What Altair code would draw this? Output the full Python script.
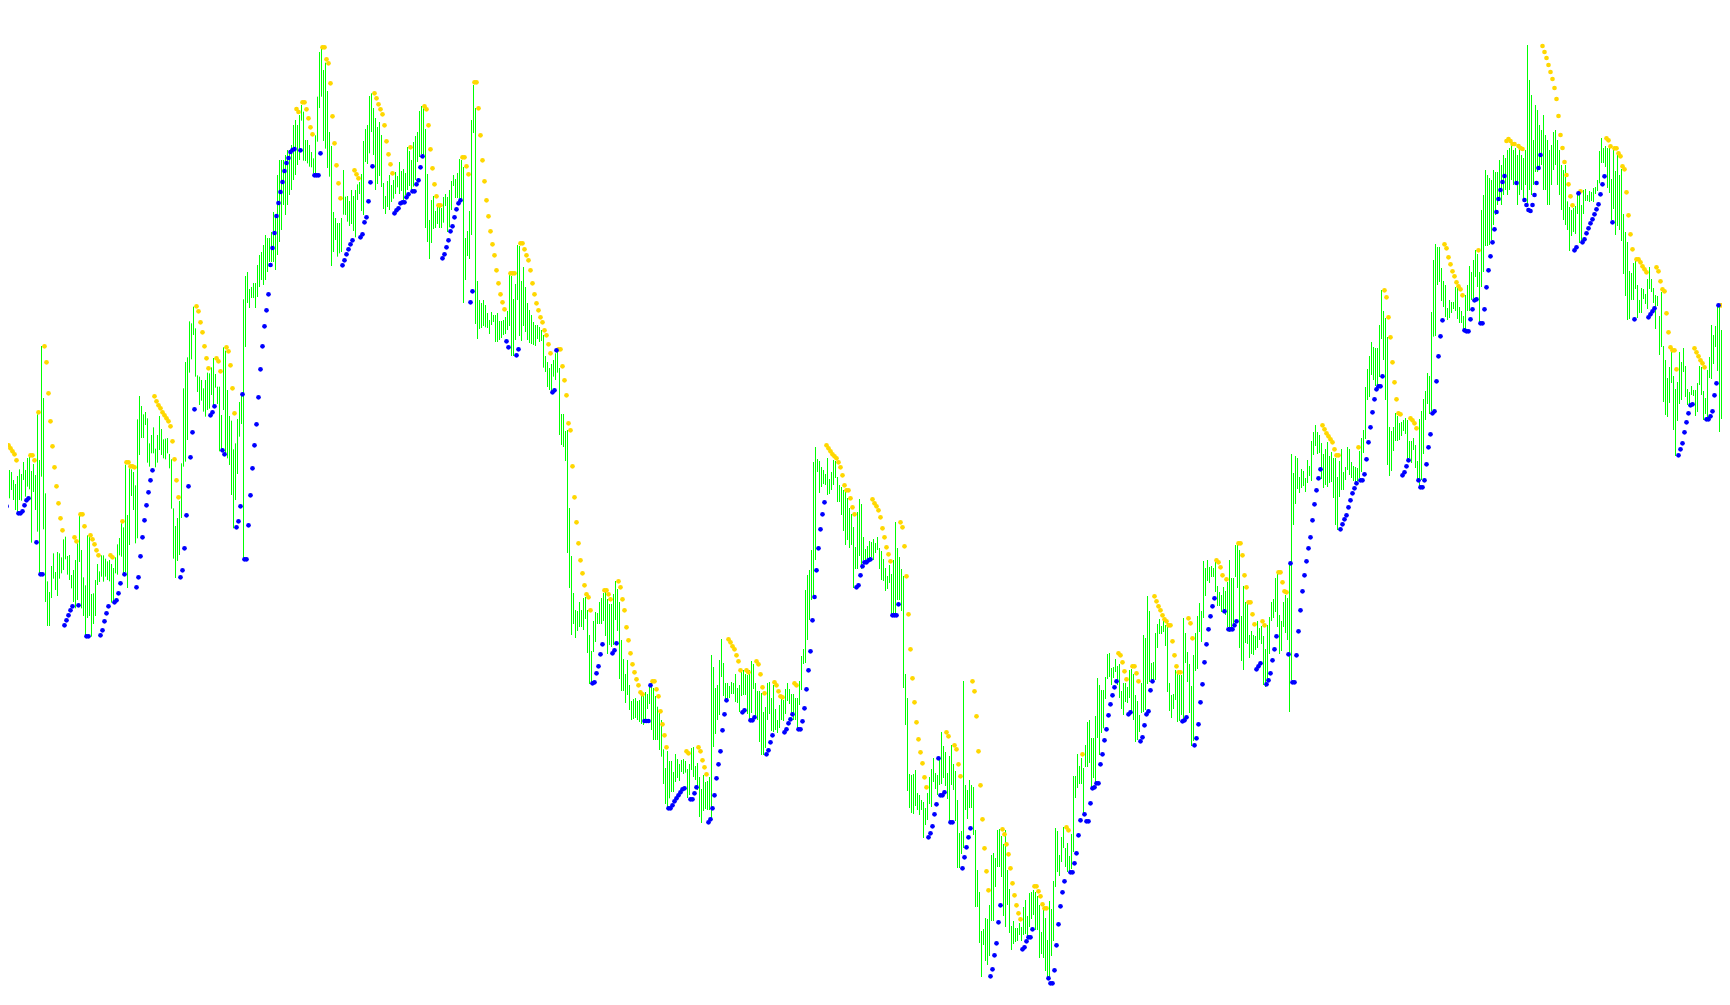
import altair as alt
import pandas as pd

# Bar readings: tops and bottoms per stretch of the series
A_top = [549,544,495,545,570,576,600,612,588,568,582,546,570,534,530,573,552,585,403,540,198,354,640,904,936,858,820,876,816,820,832,778,770,828,825,885,870,840,790,708,810,892,916,766,770,942,940,900,852,874,826,826,836,844,840,852,864,832,793,774,730,742,554,705,565,568,576,616,418,348,378,403,396,415,490,465,442,506,465,408,447,478,476,474,522,538,685,738,714,663,550,325,246,232,124,130,80,145,286,290,300,325,300,278,280,262,234,282,320,320,405,202,212,330,408,422,508,490,417,366,340,58]
A_bot = [648,630,608,645,655,630,660,690,700,660,662,600,650,620,628,788,636,690,755,880,590,748,966,1038,1038,954,896,930,948,896,880,870,838,884,900,925,966,985,960,846,985,1008,1070,1014,1008,1070,1032,1008,915,906,890,905,890,900,904,968,965,880,884,826,830,880,876,924,795,648,690,790,775,525,474,474,435,548,560,520,520,562,548,510,525,535,538,520,565,686,836,894,843,825,714,560,545,480,278,238,165,290,336,375,362,395,410,390,386,345,380,323,372,514,510,390,520,535,555,645,745,660,582,470,432,840]
B_top = [276,272,289,287,283,283,265,255,252,245,235,238,238,232,212,215,175,160,160,160,155,150,150,145,125,120,125,115]
B_bot = [347,303,308,298,298,308,297,287,280,285,280,272,262,262,262,270,255,242,230,205,215,205,195,190,180,175,165,160]
C_top = [225,245,330,330,345,366,385,316,200,66,57,120,98,183,306,348,546,564,579,579,564,420,500,498,513,480,498,480,463,456,432,333,297,285,198,190,234,264,291,276,315,459,498,453,435,465,450,426,438,396,423,417,429,351,363,390,336,318,306,243,228,235,297,432,570,510,498,543,528,530,534,501,492,501,480]
C_bot = [272,392,393,400,410,412,430,432,335,234,200,333,356,414,440,708,666,630,680,670,666,554,555,575,588,582,603,622,510,492,543,555,396,402,370,306,375,480,462,438,471,537,552,531,540,516,506,492,472,492,483,510,495,480,468,480,470,450,396,381,372,385,594,636,687,639,597,594,582,594,594,578,528,606,592]
D_top = [333,315,327,309,267,270,291,504,483,423,150,45,114,633,690,699,690,705,729,750,726,735,735,729,753,753,750,741,723,615,618,687,642,525,528,633,591,651,699,720,735,756,765,765,771,780,795,858,876,894,882]
D_bot = [420,348,384,384,386,390,699,630,558,567,495,189,762,807,777,774,768,772,774,792,765,756,816,816,810,804,795,792,780,768,858,858,810,690,798,813,768,786,810,819,822,825,828,807,816,813,893,906,951,960,968]
E_top = [90,70,60,114,252,252,303,300,534,678,789,840,843,816,840,804,801,840,915,963,873,846,849,816,804,789,780,807,822,822,792,753,777,816,930,987,1032,990,1065,1113,1107,1104,1113,1110,1098,1095,1086,1092,1071,1050,1074,1098,1130,1140,1170]
E_bot = [140,150,128,315,345,351,393,669,774,915,882,924,903,891,891,900,867,969,1062,1062,966,936,882,882,882,873,918,972,945,951,945,870,903,1047,1083,1083,1119,1095,1140,1170,1167,1164,1170,1176,1182,1185,1176,1137,1122,1200,1230,1230,1230,1260,1280]
F_top = [388,444,393,423,423,456,402,417,432,420,417,423,447,432,384,381,438,429,471,507,465,486,483,471,105,141,204,195,120,57,129,189,189,198,186,189,162,204,195,150,150,162,165,150,123,132,189,213,213,219,276,261,189,186,234,195,267,300,255,237,240,207,189,207,222,222,234,234,183,108,87,-90]
F_bot = [492,552,570,535,516,516,486,474,483,456,462,458,534,525,450,471,480,510,591,609,573,567,570,570,600,381,342,300,285,171,228,240,237,234,222,222,246,249,276,228,225,225,282,300,279,207,297,300,366,405,405,384,300,282,333,336,330,339,324,300,303,282,243,252,288,300,300,324,255,210,132,129]
G_top = [575,570,550,462,447]
G_bot = [640,620,600,596,560]
H_top = [87,93,111,120,132,84,147,126,90,93,141,165,171,180,186,204,234,252,291,351,246,207,222,321,357,348,333,336,327,339,321,354,363,387,414,438,405,432,390,276,354,381,417,438,732,804,1032,1035,1032,1020,1089,1095,1110,1116,1134,1089,1041,1017,984,1029,1035,984,906,948,966,1029,978,945,1002,1023,1110,1209,1203,753,1065,1080,1050]
H_bot = [126,189,171,162,165,195,192,180,165,144,216,216,255,303,345,330,354,345,474,417,417,378,417,390,396,390,384,381,390,369,360,417,450,453,483,477,459,555,555,555,510,510,543,774,885,1083,1134,1149,1152,1128,1140,1155,1140,1224,1185,1170,1122,1131,1056,1077,1095,1065,1062,1044,1068,1107,1179,1065,1080,1173,1314,1314,1272,1254,1140,1167,1134]
I_top = [375,381,510,630,696,813,807,774,777,735,585,579,594,510,507,528,552,510,630,687,798,783,804,804,789,801,741,720,768,699,696,690,696,708,735,816,750,774,840,723,747,663,504,513,585,531,501,564,549,588,522,348,348,282,318,294,324,255,186,180,234,234,168,54,75,90]
I_bot = [444,525,741,741,849,951,855,903,915,888,783,783,681,621,621,651,768,801,735,819,870,852,846,843,825,843,825,822,828,801,777,765,810,810,894,882,894,933,954,960,888,843,681,636,648,606,564,621,636,633,627,576,414,384,372,372,459,321,321,309,387,354,366,234,285,219]
J_top = [480,441,372,369,414,411,387,408,402,483,459,459,471,420,417,432,495,513,555,459,315,324,198,243,399,396,309,282,267,288,273,285,279,459,495,492,420,432,435,435,264,309,366,402,468,375,309,258,219,243,93,114,90,111,108,114,96,168,186,195,171,183,156,90,144,144,45,45,60,258,168,216,219,315,303,315,318,273,294,288,318,357,285,261,216,207,144,132,255,273,216,195,204,105]
J_bot = [595,507,447,441,465,444,426,465,504,537,555,516,519,504,545,570,636,630,606,549,546,540,462,456,456,453,450,354,312,312,306,348,486,543,564,537,510,576,573,555,573,399,456,549,648,633,423,417,306,336,264,198,153,159,141,141,186,228,228,246,240,255,291,306,303,291,141,174,354,393,420,339,342,384,372,375,360,354,330,342,465,471,453,372,273,264,246,291,372,363,291,309,330,546]
K_top = [522,579,528,534,591,567,573,594,540,558,483,456,435,456,465,489,522,507,486,528,516,534,534,591,543,507,576,561,501,507,546,558,561,564,513,474,450,321,267,228,186,201,204,204,135,30,93,114,171,441,453,441,399,408,429,426,420,414,420,483,483,474,495,543,417,393,357,333,279,288,96,-60]
K_bot = [1200,735,672,627,639,624,618,636,609,588,603,525,498,522,519,597,624,615,621,609,606,654,735,750,651,630,630,600,570,585,594,603,606,603,594,576,519,477,360,351,285,300,318,321,291,177,240,360,555,588,573,513,483,483,480,468,453,462,540,534,549,510,564,600,618,600,522,420,372,402,393,170]
L_top = [42,51,51,114,153,165,234,210,216,216,171,174,231,243,258,195,165,108,126,90,60,72,126]
L_bot = [318,165,156,213,231,261,270,264,249,237,243,267,279,279,300,300,243,243,210,204,141,171,276]
M_top = [210,195,170,175,178,180,170,172,172,160,165,155,158,150,148,140,150,148,155,150,155,158,150,45,80,95,140,105,110,125,130,115,135,140,150,145,132,130,140,150,165,170,165]
M_bot = [287,272,246,246,245,240,225,215,205,200,205,195,190,195,190,180,185,182,205,195,190,202,185,205,190,195,185,172,172,170,165,190,190,205,205,185,170,165,185,195,210,220,225]
N_top = [484,501,510,504,498,465,465,495,450,447,465,453,456,444,441,420,333,294,324,318,324,315,417,330,393,345,405,387,522,576,606,693,699,669,663,735,780,744,747,762,717,681,717,744,765,768,828,756,918,960,1014,981,936,1008,1047,1026,936,966,924,978,1047,1056,1038,1050,1050,1029,978,981,1053,1074,990,951,855,885,858,798,798,870,1035,951,888,813]
N_bot = [570,633,588,576,582,522,609,603,522,483,483,486,483,486,462,453,430,369,369,381,444,459,540,507,585,558,570,603,702,768,840,837,780,780,747,834,819,819,777,792,807,747,756,789,867,798,945,921,1086,1125,1131,1089,1029,1170,1248,1143,1092,1080,996,1071,1095,1095,1065,1068,1128,1116,1035,1065,1140,1122,1140,1014,1017,972,921,993,1176,1137,1212,1134,1017,921]

# (first bar, crop top, reading divisor, tops, bottoms)
STRETCHES = [
    (0, 280, 3, A_top, A_bot), (122, 0, 1, B_top, B_bot), (150, 30, 3, C_top, C_bot),
    (225, 70, 3, D_top, D_bot), (276, 330, 3, E_top, E_bot), (331, 620, 3, F_top, F_bot),
    (403, 0, 1, G_top, G_bot), (408, 430, 3, H_top, H_bot), (485, 660, 3, I_top, I_bot),
    (551, 530, 3, J_top, J_bot), (645, 280, 3, K_top, K_bot), (717, 230, 3, L_top, L_bot),
    (740, 0, 1, M_top, M_bot), (783, 40, 3, N_top, N_bot),
]

# Dot readings per stretch as (position, reading) pairs
a_gold = [(25,496),(31,505),(37,514),(43,523),(49,541),(91,526),(97,526),(103,541),(115,397),(133,199),(139,247),(145,340),(151,424),(157,499),(163,562),(169,619),(175,670),(181,715),(187,751),(223,772),(229,784),(241,703),(247,703),(253,739),(271,766),(277,778),(283,793),(289,811),(295,826),(331,826),(337,832),(367,724),(379,547),(385,547),(391,559),(397,559),(403,562),(463,349),(469,364),(475,376),(481,385),(487,397),(493,406),(499,415),(505,424),(511,439),(517,484),(523,538),(529,601),(535,652),(589,79),(595,94),(601,127),(607,157),(613,199),(619,235),(625,265),(649,235),(655,244),(661,274),(679,202),(685,214),(691,256),(697,325),(703,400)]
a_blue = [(1,826),(7,769),(13,721),(19,679),(55,700),(61,700),(67,694),(73,676),(79,661),(85,655),(109,787),(121,883),(127,883),(193,1036),(199,1021),(205,1006),(211,991),(217,979),(235,976),(259,1069),(265,1069),(301,1066),(307,1051),(313,1024),(319,1000),(325,979),(343,967),(349,961),(355,940),(361,910),(373,883),(409,922),(415,892),(421,829),(427,772),(433,721),(439,676),(445,637),(451,601),(457,571),(541,892),(547,871),(553,805),(559,706),(565,619),(571,532),(577,457),(583,388),(631,406),(637,397),(643,379),(667,511),(673,523),(709,742),(715,724),(721,679),(727,343),(733,838),(739,838),(745,736),(751,646),(757,565),(763,496),(769,433),(775,352),(781,268),(787,199),(793,139),(799,91),(805,43)]
c_gold = [(7,217),(13,217),(19,238),(25,265),(31,292),(37,313),(67,52),(73,52),(79,88),(85,100),(91,160),(97,259),(103,340),(109,406),(115,460),(121,505),(163,421),(169,433),(175,445),(223,190),(229,205),(235,223),(241,238),(247,253),(253,286),(259,334),(265,373),(271,403),(277,430),(331,352),(373,229),(379,238),(385,286),(391,358),(397,415),(403,463),(409,499),(415,526),(421,526)]
c_blue = [(1,361),(43,436),(49,436),(55,436),(61,370),(127,706),(133,691),(139,673),(145,658),(151,643),(157,631),(181,622),(187,613),(193,577),(199,562),(205,514),(211,457),(217,409),(283,550),(289,541),(295,535),(301,520),(307,517),(313,517),(319,502),(325,493),(337,484),(343,484),(349,463),(355,451),(361,412),(367,379),(427,685),(433,673),(439,652),(445,631),(451,604)]
d_gold = [(37,262),(43,262),(49,289),(55,313),(73,37),(79,37),(85,115),(91,196),(97,271),(103,334),(109,391),(115,439),(121,484),(127,523),(133,556),(139,601),(145,640),(151,673),(157,697),(163,718),(181,610),(187,610),(193,610),(211,520),(217,520),(223,538),(229,556),(235,571),(241,601),(247,640),(253,673),(259,700),(265,721),(271,742),(277,757),(283,781),(289,796),(295,823),(301,850)]
d_blue = [(7,469),(13,442),(19,418),(25,400),(31,391),(61,697),(67,664),(169,814),(175,832),(199,856),(205,838),(307,967)]
e_gold = [(19,58),(25,58),(31,109),(37,151),(43,196),(49,280),(55,301),(61,409),(67,502),(73,577),(79,640),(85,691),(91,730),(97,766),(103,793),(109,802),(115,841),(157,781),(163,781),(169,793),(175,808),(199,754),(205,772),(211,808),(217,841),(223,892),(229,931),(235,970),(241,1003),(247,1027),(253,1048),(259,1066),(265,1087),(271,1093),(301,1054),(307,1054),(313,1078),(319,1099)]
e_blue = [(7,181),(13,61),(121,1060),(127,1057),(133,1030),(139,1009),(145,973),(151,943),(181,970),(187,961),(193,940),(277,1173),(283,1173),(289,1173),(295,1066)]
f_gold = [(-5,274),(1,313),(7,346),(13,382),(73,394),(79,400),(109,382),(115,394),(121,421),(127,442),(133,463),(199,58),(205,67),(211,79),(217,88),(223,106),(229,124),(235,151),(253,151),(259,157),(283,124),(289,133),(295,163),(301,202),(307,220),(337,187),(343,196),(349,214),(355,229),(361,232),(397,190),(403,196)]
f_blue = [(19,565),(25,565),(31,556),(37,544),(43,535),(49,526),(55,517),(61,508),(67,505),(85,538),(91,538),(97,520),(103,502),(139,607),(145,598),(151,565),(157,526),(163,475),(169,433),(175,394),(181,331),(187,283),(193,241),(241,277),(247,271),(265,301),(271,301),(277,292),(313,403),(319,391),(325,367),(331,346),(367,337),(373,328),(379,310),(385,298),(391,283),(409,328),(415,328),(421,304),(427,265),(433,208),(439,151),(445,94),(451,1)]
h_gold = [(31,46),(37,55),(43,64),(49,73),(55,79),(61,85),(67,97),(73,112),(79,136),(85,166),(91,181),(97,181),(103,205),(109,232),(115,253),(169,208),(175,220),(181,229),(187,241),(193,262),(199,295),(205,322),(211,352),(217,373),(223,394),(253,277),(259,292),(265,349),(271,439),(277,553),(283,658),(289,745),(295,817),(301,877),(307,928),(313,967),(319,1000),(325,1042),(331,1072),(391,907),(397,919),(415,946),(421,958),(427,1003),(433,1039)]
h_blue = [(-5,501),(1,421),(7,355),(13,298),(19,253),(25,217),(121,472),(127,466),(133,436),(139,409),(145,397),(151,397),(157,391),(163,388),(229,556),(235,556),(241,556),(247,523),(337,1222),(343,1210),(349,1189),(355,1153),(361,1123),(367,985),(373,1096),(379,1096),(385,1087),(403,1177),(409,1177),(439,1315),(445,1282),(451,1252),(457,1222),(463,1195)]
i_gold = [(7,64),(13,94),(19,169),(25,274),(31,376),(37,478),(43,565),(49,634),(55,691),(97,508),(103,523),(109,553),(115,583),(121,625),(127,670),(133,706),(139,736),(145,760),(151,778),(193,679),(199,679),(205,694),(211,709),(217,733),(223,745),(229,745),(289,502),(295,511),(337,283)]
i_blue = [(61,949),(67,928),(73,886),(79,850),(85,787),(91,736),(157,868),(163,862),(169,844),(175,832),(181,832),(187,808),(235,955),(241,970),(247,970),(253,931),(259,856),(265,793),(271,739),(277,697),(283,664),(301,637),(307,637),(313,610),(319,580),(325,526),(331,481),(343,463),(349,484),(355,484),(361,430),(367,385),(373,382),(379,370),(385,370),(391,313),(397,283)]
j_gold = [(46,370),(52,376),(58,397),(64,424),(70,448),(88,409),(94,409),(100,430),(106,454),(154,199),(160,214),(166,229),(172,241),(178,256),(184,268),(190,274),(196,286),(202,286),(208,334),(214,376),(220,409),(226,427),(232,427),(256,265),(262,280),(268,325),(340,91),(346,97),(352,112),(358,136),(370,148),(406,40),(412,40),(418,76),(424,136),(430,172),(436,217),(442,217),(448,253),(454,283),(478,274),(484,286),(526,127),(532,127),(538,157),(544,184),(550,187)]
j_blue = [(4,631),(10,598),(16,556),(22,523),(28,496),(34,472),(40,454),(76,553),(82,547),(112,634),(118,622),(124,586),(130,553),(136,544),(142,481),(148,454),(238,574),(244,571),(250,562),(274,646),(280,625),(286,583),(292,517),(298,463),(304,397),(310,343),(316,298),(322,259),(328,229),(334,205),(364,244),(376,298),(382,298),(388,298),(394,286),(400,274),(460,418),(466,409),(472,400),(490,463),(496,451),(502,430),(508,391),(514,358),(520,319),(556,373),(562,100)]
k_gold = [(97,436),(103,448),(109,460),(115,469),(121,478),(127,487),(133,508),(139,526),(145,526),(205,502),(283,31),(289,52),(295,112),(301,172),(307,247),(313,307),(319,358),(325,400),(331,403),(361,415),(367,421),(373,430),(379,445)]
k_blue = [(7,1207),(13,1207),(19,1126),(25,1054),(31,991),(37,934),(43,886),(49,844),(55,805),(61,772),(67,721),(73,673),(79,631),(85,595),(91,568),(151,748),(157,733),(163,718),(169,706),(175,682),(181,661),(187,640),(193,625),(199,610),(211,601),(217,601),(223,583),(229,538),(235,487),(241,442),(247,397),(253,358),(259,328),(265,319),(271,319),(277,289),(337,586),(343,577),(349,559),(355,541),(385,601),(391,622),(397,622),(403,601),(409,553),(415,502),(421,463),(427,400),(433,394)]
l_gold = [(31,43),(37,55),(43,82),(49,103),(55,124),(61,139),(67,157),(73,169),(79,178),(85,196),(133,61)]
l_blue = [(7,454),(13,379),(19,319),(25,271),(91,301),(97,304),(103,304),(109,268),(115,238),(121,211),(127,208),(139,280),(145,280),(151,238),(157,172),(163,121),(169,79),(175,37),(181,-2)]
n_gold = [(7,433),(13,469),(19,496),(43,454),(121,295),(127,301),(133,319),(145,325),(151,325),(157,340),(163,349),(169,379),(175,388),(181,457),(187,526),(193,583),(199,628),(211,658),(217,658),(223,667),(229,679),(235,688),(241,697),(271,682),(277,694),(283,724),(289,748),(295,754),(301,820),(307,877),(313,922),(319,931),(325,931),(331,988),(385,925),(391,937),(397,949),(403,961),(409,970),(415,982),(463,796),(469,796),(475,844),(481,889)]
n_blue = [(25,631),(31,622),(37,460),(49,607),(55,598),(61,580),(67,565),(73,550),(79,538),(85,523),(91,508),(97,493),(103,463),(109,433),(115,409),(139,547),(205,838),(247,832),(253,823),(259,814),(265,805),(337,1246),(343,1228),(349,1210),(355,1177),(361,1147),(367,1120),(373,1096),(379,1093),(421,1138),(427,1138),(433,1129),(439,1114),(445,1066),(451,1030),(457,796),(487,1210),(493,1186)]
other_gold = [(147,109),(148,112),(752,141),(753,139),(754,141),(755,144),(756,144),(758,146),(759,148),(760,149),(770,46),(771,52),(772,58),(773,65),(774,72),(775,79),(776,88),(777,99),(778,116),(779,135),(780,148),(781,162),(782,175)]
other_blue = [(134,265),(135,248),(136,233),(137,216),(138,203),(139,192),(140,182),(141,171),(142,163),(143,158),(144,152),(145,150),(146,149),(747,212),(748,199),(749,190),(750,182),(751,176),(757,183),(761,200),(762,205),(763,210),(764,211),(765,205),(766,195),(767,183),(768,168),(769,155)]

# (left edge, crop top, gold pairs, blue pairs)
DOT_GROUPS = [
    (0, 280, a_gold, a_blue), (300, 30, c_gold, c_blue), (450, 70, d_gold, d_blue),
    (552, 330, e_gold, e_blue), (662, 620, f_gold, f_blue), (816, 430, h_gold, h_blue),
    (970, 660, i_gold, i_blue), (1103, 530, j_gold, j_blue), (1290, 280, k_gold, k_blue),
    (1434, 230, l_gold, l_blue), (1566, 40, n_gold, n_blue),
]

TOTAL = 1005


def level(origin, reading, divisor=3):
    return TOTAL - (origin + reading / divisor)


bars = []
for first, origin, div, tops, bottoms in STRETCHES:
    for k, (t, b) in enumerate(zip(tops, bottoms, strict=True)):
        bars.append({"bar": first + k, "high": level(origin, t, div), "low": level(origin, b, div)})

dots = []
for left, origin, gold, blue in DOT_GROUPS:
    for name, pairs in (("gold", gold), ("blue", blue)):
        for x, y in pairs:
            idx = round((left + x / 3 - 2.33) / 2)
            dots.append({"bar": idx + 0.5, "value": level(origin, y), "kind": name})
for name, pairs in (("gold", other_gold), ("blue", other_blue)):
    for idx, y in pairs:
        dots.append({"bar": idx + 0.5, "value": TOTAL - y, "kind": name})

x_scale = alt.Scale(domain=[3.25, 860.25], range=[0, 1714], nice=False, zero=False, clamp=False)
y_scale = alt.Scale(domain=[17, 997], nice=False, zero=False)

bar_layer = alt.Chart(pd.DataFrame(bars)).mark_rule(color="#00FF00", strokeWidth=1, opacity=1).encode(
    x=alt.X("bar:Q", scale=x_scale, axis=None),
    y=alt.Y("high:Q", scale=y_scale, axis=None),
    y2="low:Q",
)
dot_layer = alt.Chart(pd.DataFrame(dots)).mark_circle(size=22, opacity=1).encode(
    x=alt.X("bar:Q", scale=x_scale, axis=None),
    y=alt.Y("value:Q", scale=y_scale, axis=None),
    color=alt.Color("kind:N", scale=alt.Scale(domain=["gold", "blue"], range=["#FFD700", "#0000FF"]), legend=None),
)

chart = (bar_layer + dot_layer).properties(
    width=1714, height=980, padding=0,
    autosize=alt.AutoSizeParams(type="none"),
    background="white",
).configure_view(stroke=None)

chart.save("out.html", embed_options={"renderer": "svg", "actions": False})
